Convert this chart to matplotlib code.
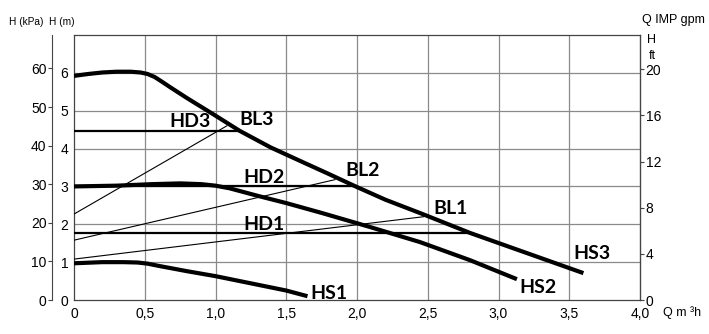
import matplotlib
matplotlib.use('Agg')
import matplotlib.pyplot as plt

# pump curves (Q in m3/h, H in m)
q_hs3 = [0, 0.1, 0.2, 0.3, 0.4, 0.47, 0.52, 0.57, 0.62, 0.68, 0.8, 0.9, 1.0, 1.17, 1.39, 1.6, 1.8, 1.99, 2.2, 2.45, 2.8, 3.2, 3.6]
h_hs3 = [5.92, 5.97, 6.01, 6.03, 6.03, 6.01, 5.97, 5.89, 5.77, 5.62, 5.33, 5.1, 4.87, 4.47, 4.03, 3.67, 3.33, 3.0, 2.65, 2.29, 1.77, 1.24, 0.71]
q_hs2 = [0, 0.3, 0.55, 0.75, 0.9, 1.0, 1.1, 1.2, 1.3, 1.5, 1.75, 2.09, 2.445, 2.8, 3.13]
h_hs2 = [3.0, 3.02, 3.06, 3.08, 3.06, 3.02, 2.95, 2.85, 2.75, 2.56, 2.3, 1.93, 1.53, 1.05, 0.55]
q_hs1 = [0, 0.2, 0.35, 0.45, 0.52, 0.6, 0.7, 0.8, 1.0, 1.25, 1.5, 1.65]
h_hs1 = [0.97, 1.0, 1.0, 0.99, 0.96, 0.9, 0.83, 0.76, 0.63, 0.44, 0.25, 0.1]

# duty points: horizontal HD lines and BL lines
hd_names = ['HD3', 'HD2', 'HD1']
hd_level = [4.47, 3.0, 1.76]
hd_end = [1.17, 1.99, 2.8]
bl_names = ['BL3', 'BL2', 'BL1']
bl_q = [[0, 1.08], [0, 1.845], [0, 2.47]]
bl_h = [[2.27, 4.6], [1.58, 3.18], [1.08, 2.2]]

x_ticks = [0, 0.5, 1.0, 1.5, 2.0, 2.5, 3.0, 3.5, 4.0]
x_labels = ['0', '0,5', '1,0', '1,5', '2,0', '2,5', '3,0', '3,5', '4,0']
m_ticks = [0, 1, 2, 3, 4, 5, 6]
kpa_ticks = [0, 10, 20, 30, 40, 50, 60]
ft_ticks = [0, 4, 8, 12, 16, 20]

tick_font = ['Liberation Sans Narrow', 'Liberation Sans', 'DejaVu Sans']
lab_font = ['Lato', 'DejaVu Sans']

fig = plt.figure(figsize=(7.09, 3.34), dpi=100)
W, H = 709, 334
ax = fig.add_axes([74 / W, (H - 300) / H, (640 - 74) / W, (300 - 35) / H])
ax.set_xlim(0, 4)
ax.set_ylim(0, 7)

grid_c = '#8a8a8a'
for x in x_ticks[1:-1]:
    ax.axvline(x, color=grid_c, lw=0.9, zorder=1)
for y in m_ticks[1:]:
    ax.axhline(y, color=grid_c, lw=0.9, zorder=1)

for s in ax.spines.values():
    s.set_color('#444444')
    s.set_linewidth(0.9)

ax.set_xticks(x_ticks)
ax.set_xticklabels(x_labels, family=tick_font, fontsize=10)
ax.set_yticks(m_ticks)
ax.set_yticklabels([str(v) for v in m_ticks], family=tick_font, fontsize=10)
ax.tick_params(length=0, pad=5)
ax.tick_params(axis='y', pad=4)

# kPa scale on the far left
kpa = ax.secondary_yaxis(-22 / 566, functions=(lambda m: m * 9.81, lambda k: k / 9.81))
kpa.set_yticks(kpa_ticks)
kpa.set_yticklabels([str(v) for v in kpa_ticks], family=tick_font, fontsize=10)
kpa.tick_params(length=3, width=0.8, pad=1, color='#444444')
kpa.spines['left'].set_color('#444444')

# ft scale on the right
ft = ax.secondary_yaxis('right', functions=(lambda m: m * 3.281, lambda f: f / 3.281))
ft.set_yticks(ft_ticks)
ft.set_yticklabels([str(v) for v in ft_ticks], family=tick_font, fontsize=10)
ft.tick_params(length=3, width=0.8, pad=1, color='#444444')

# curves
for q, h in [(q_hs3, h_hs3), (q_hs2, h_hs2), (q_hs1, h_hs1)]:
    ax.plot(q, h, color='black', lw=3.0, solid_capstyle='butt',
            solid_joinstyle='round', zorder=4)
for lvl, end in zip(hd_level, hd_end):
    ax.plot([0, end], [lvl, lvl], color='black', lw=1.6, zorder=3)
for q, h in zip(bl_q, bl_h):
    ax.plot(q, h, color='black', lw=0.8, zorder=3)

labels = {
    'HD3': (0.82, 4.71), 'BL3': (1.29, 4.76),
    'HD2': (1.34, 3.24), 'BL2': (2.04, 3.42),
    'HD1': (1.34, 2.0), 'BL1': (2.66, 2.42),
    'HS3': (3.66, 1.24), 'HS2': (3.28, 0.34), 'HS1': (1.8, 0.18),
}
for name, (x, y) in labels.items():
    ax.text(x, y, name, family=lab_font, fontweight='bold', fontsize=14,
            ha='center', va='center', zorder=5)

fig.text(9 / W, 1 - 22 / H, 'H (kPa)', family=tick_font, fontsize=7.3, va='center')
fig.text(49 / W, 1 - 22 / H, 'H (m)', family=tick_font, fontsize=7.3, va='center')
fig.text(642 / W, 1 - 20 / H, 'Q IMP gpm', family=tick_font, fontsize=9, va='center')
fig.text(652 / W, 1 - 40 / H, 'H', family=tick_font, fontsize=9, va='center', ha='center')
fig.text(652 / W, 1 - 56 / H, 'ft', family=tick_font, fontsize=9, va='center', ha='center')
fig.text(663 / W, 1 - 313 / H, 'Q m ³h', family=tick_font, fontsize=9, va='center')

fig.savefig('out.png', dpi=100)
